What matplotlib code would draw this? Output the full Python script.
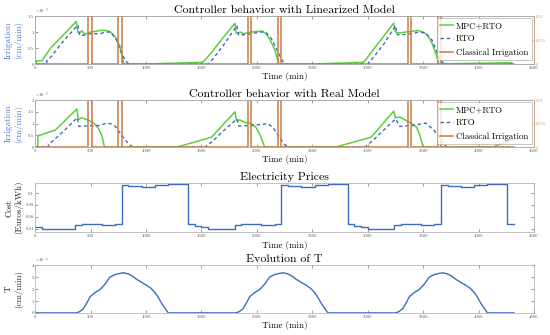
import numpy as np
import matplotlib
matplotlib.use("Agg")
import matplotlib.pyplot as plt

plt.rcParams.update({
    "font.family": ["cmr10", "DejaVu Serif"],
    "mathtext.fontset": "cm",
    "axes.formatter.use_mathtext": True,
    "axes.unicode_minus": False,
})

GREEN, BLUE, ORANGE = "#5ccf3c", "#3c6cc2", "#c67b45"
RTICK = "#d39a5a"
GRID = "#a8a8a8"

# ---- irrigation, linearized model (values in 1e-3 cm/min) ----
lin_mpc_t = [0, 10, 10, 60, 140, 370, 385, 405, 420, 450, 500, 585, 640, 680, 720, 765, 795, 800,
             1000, 1500, 1520, 1600, 1700, 1802, 1815, 1850, 1880, 1950, 2000, 2050, 2080, 2120, 2160, 2195, 2205,
             2500, 2950, 2970, 3050, 3150, 3234, 3250, 3290, 3340, 3400, 3450, 3500, 3540, 3580, 3615, 3640, 3660,
             3780, 4300]
lin_mpc_v = [0, 0, 0.1, 0.1, 0.5, 1.33, 1.0, 0.98, 1.04, 0.93, 1.0, 1.05, 1.05, 1.0, 0.85, 0.55, 0.05, 0,
             0, 0.05, 0.08, 0.4, 0.85, 1.27, 0.95, 1.0, 0.95, 1.0, 1.02, 1.03, 0.95, 0.75, 0.45, 0.05, 0,
             0, 0.05, 0.08, 0.45, 0.9, 1.28, 1.0, 0.97, 1.0, 1.02, 1.05, 1.0, 0.9, 0.65, 0.3, 0.02, 0,
             0.01, 0.04]
lin_rto_t = [0, 105, 105, 150, 250, 385, 400, 440, 500, 585, 640, 680, 735, 770, 815, 845,
             1560, 1600, 1700, 1820, 1835, 1900, 1960, 2020, 2080, 2130, 2180, 2230, 2260,
             3000, 3050, 3150, 3250, 3265, 3320, 3400, 3460, 3520, 3580, 3620, 3660, 3690, 4300]
lin_rto_v = [0, 0, 0.1, 0.25, 0.7, 1.22, 0.9, 0.9, 0.95, 0.95, 1.0, 1.0, 0.75, 0.4, 0.1, 0,
             0, 0.15, 0.6, 1.2, 0.9, 0.92, 0.95, 1.0, 1.0, 0.8, 0.45, 0.1, 0,
             0, 0.2, 0.65, 1.2, 0.92, 0.92, 0.95, 1.0, 0.97, 0.75, 0.4, 0.1, 0, 0]

# ---- irrigation, real model (values in 1e-3 cm/min) ----
real_mpc_t = [0, 24, 24, 180, 375, 390, 420, 480, 530, 570, 600, 625,
              1280, 1590, 1802, 1815, 1850, 1890, 1950, 1990, 2030, 2070,
              2710, 3030, 3234, 3250, 3290, 3340, 3400, 3440, 3470, 3500,
              4130, 4300]
real_mpc_v = [0, 0, 0.48, 0.72, 1.62, 1.18, 1.25, 1.15, 1.02, 0.8, 0.5, 0,
              0, 0.42, 1.5, 1.15, 1.15, 1.05, 1.0, 0.85, 0.5, 0,
              0, 0.42, 1.53, 1.25, 1.28, 1.15, 1.0, 0.85, 0.5, 0,
              0, 0.32]
real_rto_t = [0, 120, 120, 250, 380, 395, 450, 585, 630, 680, 720, 780, 840, 880,
              1530, 1600, 1700, 1820, 1835, 1950, 2050, 2100, 2150, 2200, 2250, 2290,
              2975, 3050, 3150, 3250, 3290, 3400, 3525, 3600, 3680, 3710, 4300]
real_rto_v = [0, 0, 0.1, 0.65, 1.25, 0.88, 0.9, 0.92, 1.0, 1.0, 0.9, 0.5, 0.15, 0,
              0, 0.25, 0.7, 1.2, 0.9, 0.92, 0.97, 1.0, 0.8, 0.45, 0.1, 0,
              0, 0.3, 0.75, 1.2, 0.88, 0.92, 1.02, 0.7, 0.2, 0, 0]

# classical irrigation pulses (right axis)
pulse_on = [480, 750, 1920, 2190, 3360, 3630]
pulse_off = [510, 780, 1950, 2220, 3390, 3660]
pulse_level = 0.01
t_end = 4320

# ---- electricity price, hourly (Euros/kWh) ----
price = [0.043, 0.040, 0.039, 0.0385, 0.0385, 0.039, 0.046, 0.048, 0.048, 0.0475, 0.046, 0.046,
         0.047, 0.113, 0.112, 0.112, 0.111, 0.111, 0.113, 0.114, 0.115, 0.115, 0.115, 0.047,
         0.044, 0.042, 0.039, 0.0385, 0.0385, 0.039, 0.046, 0.048, 0.048, 0.0475, 0.046, 0.046,
         0.047, 0.113, 0.112, 0.112, 0.111, 0.111, 0.113, 0.114, 0.115, 0.115, 0.115, 0.047,
         0.044, 0.042, 0.039, 0.0385, 0.0385, 0.039, 0.046, 0.048, 0.048, 0.0475, 0.046, 0.046,
         0.047, 0.113, 0.112, 0.112, 0.111, 0.111, 0.113, 0.114, 0.115, 0.115, 0.115, 0.047]

# ---- T evolution (values in 1e-4 cm/min) ----
T_t = [0, 370, 400, 435, 470, 495, 540, 585, 630, 675, 720, 765, 800, 840, 880, 915, 960, 1005, 1045,
       1080, 1110, 1140, 1170, 1200,
       1810, 1840, 1875, 1910, 1935, 1980, 2025, 2070, 2115, 2160, 2205, 2240, 2280, 2320, 2355, 2400,
       2445, 2485, 2520, 2550, 2580, 2610, 2640,
       3250, 3280, 3315, 3350, 3375, 3420, 3465, 3510, 3555, 3600, 3645, 3680, 3720, 3760, 3795, 3840,
       3885, 3925, 3960, 3990, 4020, 4050, 4080, 4320]
T_v = [0, 0, 0.1, 0.35, 0.9, 1.35, 1.7, 1.95, 2.4, 3.0, 3.2, 3.3, 3.35, 3.25, 3.05, 2.8, 2.55, 2.3, 2.05,
       1.7, 1.3, 0.8, 0.4, 0,
       0, 0.1, 0.35, 0.9, 1.35, 1.7, 1.95, 2.4, 3.0, 3.2, 3.3, 3.35, 3.25, 3.05, 2.8, 2.55,
       2.3, 2.05, 1.7, 1.3, 0.8, 0.4, 0,
       0, 0.1, 0.35, 0.9, 1.35, 1.7, 1.95, 2.4, 3.0, 3.2, 3.3, 3.35, 3.25, 3.05, 2.8, 2.55,
       2.3, 2.05, 1.7, 1.3, 0.8, 0.4, 0, 0]

xticks = list(range(0, 4501, 500))


def style(ax, yticks, ylabel, title, ycolor="#222222", sci=None):
    ax.set_xlim(0, 4500)
    ax.set_xticks(xticks)
    ax.set_xticklabels([str(v) for v in xticks])
    ax.set_yticks(yticks)
    scale = 1.0 if sci is None else 10.0 ** (-sci)
    ax.set_yticklabels([f"{v * scale:g}" for v in yticks])
    ax.tick_params(direction="in", length=2, width=0.4, labelsize=3.4, pad=1.5,
                   colors="#555555", top=True)
    ax.tick_params(axis="y", pad=1.0)
    for s in ax.spines.values():
        s.set_color(GRID)
        s.set_linewidth(0.5)
    ax.set_xlabel("Time (min)", fontsize=6.5, labelpad=1.5)
    ax.set_ylabel(ylabel, fontsize=6.5, color=ycolor, linespacing=1.1)
    ax.yaxis.set_label_coords(-0.025, 0.5)
    ax.set_title(title, fontsize=8.5, pad=2)
    if sci is not None:
        ax.text(0.0, 1.01, r"$\times10^{%d}$" % sci, transform=ax.transAxes,
                fontsize=3.2, color="#555555", ha="left", va="bottom")


fig = plt.figure(figsize=(5.5, 3.35), dpi=100)
L, W = 0.064, 0.907
boxes = [(0.809, 0.143), (0.561, 0.140), (0.307, 0.146), (0.066, 0.143)]
axs = [fig.add_axes([L, b, W, h]) for b, h in boxes]

pt, pv = [0], [0]
for a, b in zip(pulse_on, pulse_off):
    pt += [a, a, b, b]
    pv += [0, pulse_level, pulse_level, 0]
pt.append(t_end)
pv.append(0)

panels = [
    (axs[0], lin_mpc_t, lin_mpc_v, lin_rto_t, lin_rto_v, 1.5,
     "Controller behavior with Linearized Model"),
    (axs[1], real_mpc_t, real_mpc_v, real_rto_t, real_rto_v, 2.0,
     "Controller behavior with Real Model"),
]
for ax, mt, mv, rt, rv, ytop, title in panels:
    h1, = ax.plot(mt, np.array(mv) * 1e-3, color=GREEN, lw=1.1, label="MPC+RTO")
    h2, = ax.plot(rt, np.array(rv) * 1e-3, color=BLUE, lw=1.0, ls=(0, (2.5, 2)), label="RTO")
    ax.set_ylim(0, ytop * 1e-3)
    style(ax, list(np.arange(0, ytop + 0.01, 0.5) * 1e-3), "Irrigation\n(cm/min)", title,
          ycolor="#4a78c8", sci=-3)
    ax.tick_params(right=False)
    ax2 = ax.twinx()
    h3, = ax2.plot(pt, pv, color=ORANGE, lw=1.1, label="Classical Irrigation")
    ax2.set_ylim(0, 0.01)
    ax2.set_yticks([0, 0.005, 0.01])
    ax2.set_yticklabels(["0", "0.005", "0.01"])
    ax2.tick_params(direction="in", length=2, width=0.4, labelsize=3.2, pad=1.5,
                    colors=RTICK)
    for s in ax2.spines.values():
        s.set_color(GRID)
        s.set_linewidth(0.5)
    ax2.spines["right"].set_color(RTICK)
    leg = ax2.legend(handles=[h1, h2, h3], loc="upper right", fontsize=6.3,
                     frameon=True, fancybox=False, borderaxespad=0.25,
                     handlelength=1.5, handletextpad=0.3, labelspacing=0.55,
                     borderpad=0.4)
    leg.get_frame().set_edgecolor("#999999")
    leg.get_frame().set_linewidth(0.5)

ax = axs[2]
price_t = list(range(0, t_end + 1, 60))
ax.step(price_t, price + [price[-1]], where="post", color=BLUE, lw=1.0)
ax.set_ylim(0.034, 0.1165)
style(ax, [0.04, 0.06, 0.08, 0.1], "Cost\n(Euros/kWh)", "Electricity Prices")
ax.tick_params(right=True)

ax = axs[3]
ax.plot(T_t, np.array(T_v) * 1e-4, color=BLUE, lw=1.0)
ax.set_ylim(0, 4e-4)
style(ax, [0, 1e-4, 2e-4, 3e-4, 4e-4], "T\n(cm/min)", "Evolution of T", sci=-4)
ax.tick_params(right=True)

fig.savefig("out.png", dpi=100)
